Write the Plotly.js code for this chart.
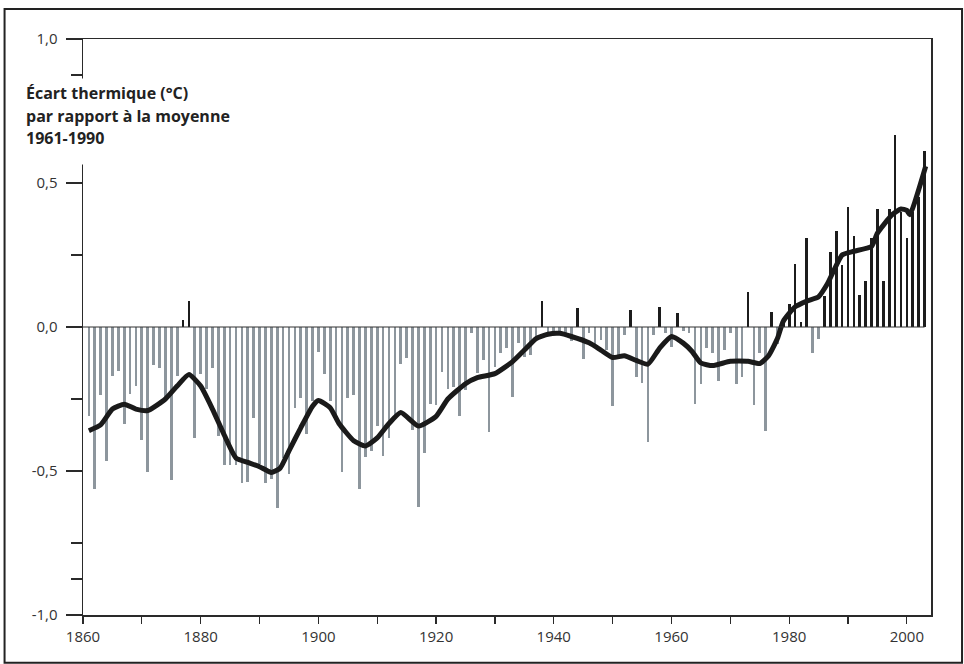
<!DOCTYPE html>
<html>
<head>
<meta charset="utf-8">
<script src="https://cdn.plot.ly/plotly-3.0.1.min.js"></script>
<style>
  html, body { margin: 0; padding: 0; background: #fff; }
  #chart { width: 964px; height: 664px; }
</style>
</head>
<body>
<div id="chart"></div>
<script>
// Annual anomalies (°C) relative to 1961-1990, years 1861..2003
const firstYear = 1861;
const anomalies = [
  -0.309, -0.564, -0.236, -0.465, -0.170, -0.153, -0.336, -0.231, -0.205, -0.394, // 1861-1870
  -0.503, -0.132, -0.143, -0.250, -0.531, -0.170,  0.024,  0.090, -0.385, -0.163, // 1871-1880
  -0.215, -0.142, -0.380, -0.479, -0.479, -0.480, -0.541, -0.537, -0.315, -0.477, // 1881-1890
  -0.541, -0.529, -0.630, -0.454, -0.509, -0.280, -0.245, -0.370, -0.257, -0.086, // 1891-1900
  -0.164, -0.257, -0.326, -0.503, -0.245, -0.237, -0.564, -0.451, -0.431, -0.344, // 1901-1910
  -0.448, -0.387, -0.320, -0.130, -0.107, -0.359, -0.625, -0.439, -0.269, -0.270, // 1911-1920
  -0.155, -0.216, -0.210, -0.309, -0.220, -0.020, -0.160, -0.115, -0.365, -0.139, // 1921-1930
  -0.089, -0.072, -0.243, -0.054, -0.104, -0.097, -0.037,  0.092, -0.027, -0.020, // 1931-1940
  -0.020, -0.020, -0.050,  0.065, -0.110, -0.020, -0.060, -0.045, -0.080, -0.273, // 1941-1950
  -0.100, -0.027,  0.060, -0.172, -0.195, -0.400, -0.027,  0.071, -0.020, -0.071, // 1951-1960
   0.048, -0.013, -0.020, -0.267, -0.199, -0.073, -0.089, -0.187, -0.079, -0.022, // 1961-1970
  -0.199, -0.172,  0.121, -0.270, -0.089, -0.360,  0.051, -0.058,  0.020,  0.080, // 1971-1980
   0.220,  0.016,  0.310, -0.089, -0.042,  0.107,  0.259,  0.332,  0.216,  0.415, // 1981-1990
   0.315,  0.110,  0.161,  0.309,  0.410,  0.161,  0.410,  0.666,  0.400,  0.309, // 1991-2000
   0.400,  0.450,  0.610                                                          // 2001-2003
];

// Smoothed curve
const smoothYears = [1861, 1863, 1865, 1867, 1869, 1871, 1874, 1876, 1878, 1880,
  1882, 1884, 1886, 1888, 1890, 1892, 1893.5, 1895, 1897, 1899, 1900, 1902, 1903.5,
  1906, 1908, 1910, 1912, 1914, 1917, 1920, 1922, 1925, 1927, 1930, 1933, 1935,
  1937, 1939, 1941, 1943, 1946, 1948, 1950, 1952, 1954, 1956, 1958, 1960, 1962,
  1963.5, 1965, 1967, 1970, 1973, 1975, 1976.5, 1978, 1979, 1981, 1983, 1985,
  1986.5, 1989, 1991, 1994, 1995, 1997.5, 1999, 2000, 2000.5, 2003.2];
const smoothValues = [-0.36, -0.34, -0.285, -0.268, -0.285, -0.29, -0.25, -0.205, -0.165, -0.205,
  -0.285, -0.375, -0.455, -0.47, -0.485, -0.505, -0.49, -0.43, -0.35, -0.275, -0.255, -0.28, -0.335,
  -0.395, -0.413, -0.385, -0.335, -0.297, -0.344, -0.31, -0.25, -0.197, -0.176, -0.162, -0.12, -0.08,
  -0.04, -0.025, -0.022, -0.033, -0.055, -0.08, -0.106, -0.10, -0.116, -0.129, -0.073, -0.033, -0.056,
  -0.085, -0.125, -0.134, -0.119, -0.119, -0.127, -0.10, -0.04, 0.02, 0.07, 0.09, 0.105,
  0.15, 0.25, 0.263, 0.28, 0.326, 0.39, 0.41, 0.405, 0.39, 0.558];

const yTickVals = [-1, -0.5, 0, 0.5, 1];
const yTickText = ["-1,0", "-0,5", "0,0", "0,5", "1,0"];
const yMinorVals = [-0.875, -0.75, -0.25, 0.25, 0.75, 0.875];
const xTickVals = [1860, 1880, 1900, 1920, 1940, 1960, 1980, 2000];
const xTickText = ["1860", "1880", "1900", "1920", "1940", "1960", "1980", "2000"];
const titleLines = ["Écart thermique (°C)", "par rapport à la moyenne", "1961-1990"];

const years = anomalies.map((_, i) => firstYear + i);
const barColors = anomalies.map(v => v >= 0 ? '#1c1c1c' : '#8d969d');

const traces = [
  {
    type: 'bar', x: years, y: anomalies, width: 0.46,
    marker: { color: barColors, line: { width: 0 } },
    hoverinfo: 'x+y', showlegend: false
  },
  {
    type: 'scatter', mode: 'lines', x: smoothYears, y: smoothValues,
    line: { color: '#1a1a1a', width: 5, shape: 'spline', smoothing: 0.5 },
    showlegend: false
  }
];

const tickFont = { family: '"Open Sans", "DejaVu Sans", sans-serif', size: 15, color: '#333' };
const titleFont = { family: '"Open Sans", "DejaVu Sans", sans-serif', size: 16, color: '#222' };

// plot area: 83..931 px horizontally, 39..615 px vertically
const px = v => (v - 83) / 848;
const py = v => (615 - v) / 576;

const annotations = [
  // white band interrupting the y axis behind the heading
  { xref: 'paper', yref: 'paper', x: px(22), y: py(78), xanchor: 'left', yanchor: 'top',
    text: ' ', showarrow: false, width: 212, height: 85, bgcolor: '#fff', borderpad: 0 }
];
titleLines.forEach((t, i) => {
  annotations.push({
    xref: 'paper', yref: 'paper', x: px(25), y: py(93 + i * 22.5), xanchor: 'left', yanchor: 'middle',
    text: '<b>' + t + '</b>', align: 'left', showarrow: false, font: titleFont, borderpad: 0
  });
});

const layout = {
  width: 964, height: 664,
  margin: { l: 83, r: 33, t: 39, b: 49, pad: 0 },
  paper_bgcolor: '#fff', plot_bgcolor: '#fff',
  showlegend: false,
  bargap: 0,
  xaxis: {
    range: [1860, 2004.1], showgrid: false, zeroline: false,
    showline: true, mirror: true, linecolor: '#2a2a2a', linewidth: 1.5,
    tickmode: 'array', tickvals: xTickVals, ticktext: xTickText,
    ticks: 'outside', ticklen: 7, tickwidth: 1.2, tickcolor: '#2a2a2a',
    minor: { tickmode: 'linear', tick0: 1860, dtick: 10, ticks: 'outside', ticklen: 7, tickwidth: 1.2, tickcolor: '#2a2a2a' },
    tickfont: tickFont, fixedrange: true
  },
  yaxis: {
    range: [-1, 1], showgrid: false, zeroline: false,
    showline: true, mirror: true, linecolor: '#2a2a2a', linewidth: 1.5,
    tickmode: 'array', tickvals: yTickVals, ticktext: yTickText,
    ticks: 'outside', ticklen: 16, tickwidth: 1.2, tickcolor: '#2a2a2a',
    minor: { tickmode: 'array', tickvals: yMinorVals, ticks: 'outside', ticklen: 11, tickwidth: 1.2, tickcolor: '#2a2a2a' },
    tickfont: tickFont, ticklabelstandoff: 5, fixedrange: true
  },
  shapes: [
    { type: 'line', xref: 'x', yref: 'y', x0: 1860, x1: 2003, y0: 0, y1: 0,
      line: { color: '#333', width: 1.2 }, layer: 'above' },
    { type: 'rect', xref: 'paper', yref: 'paper', x0: -0.0925, x1: 1.0366, y0: -0.083, y1: 1.052,
      line: { color: '#222', width: 2 }, fillcolor: 'rgba(0,0,0,0)' }
  ],
  annotations: annotations
};

Plotly.newPlot('chart', traces, layout, { staticPlot: true, displayModeBar: false });
</script>
</body>
</html>
